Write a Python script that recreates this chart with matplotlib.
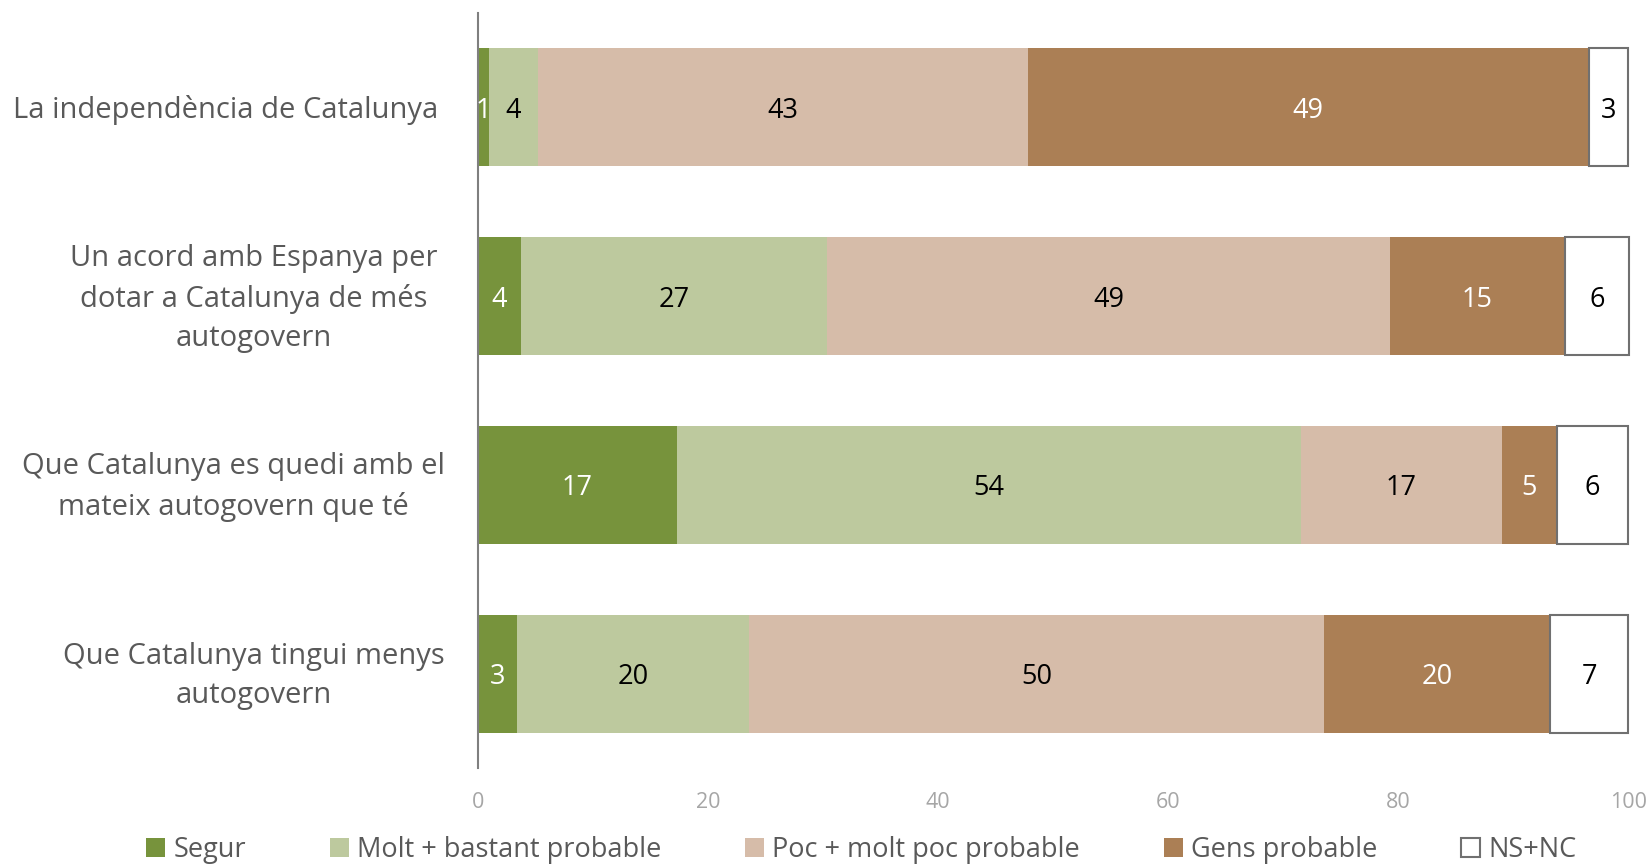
import numpy as np
import matplotlib.pyplot as plt
from matplotlib import transforms

plt.rcParams['font.family'] = ['Open Sans', 'DejaVu Sans']

questions = [
    "La independència de Catalunya",
    "Un acord amb Espanya per\ndotar a Catalunya de més\nautogovern",
    "Que Catalunya es quedi amb el\nmateix autogovern que té",
    "Que Catalunya tingui menys\nautogovern",
]
series = ["Segur", "Molt + bastant probable", "Poc + molt poc probable",
          "Gens probable", "NS+NC"]
segur = [1.0, 3.8, 17.3, 3.4]
molt_bastant = [4.2, 26.6, 54.3, 20.2]
poc_molt_poc = [42.6, 48.9, 17.4, 50.0]
gens = [48.8, 15.2, 4.8, 19.6]
ns_nc = [3.4, 5.6, 6.2, 6.8]

colors = ["#77933c", "#bdc99e", "#d6bca9", "#ab7f55", "#ffffff"]
label_colors = ["white", "black", "black", "white", "black"]

fig = plt.figure(figsize=(16.5, 8.65), dpi=100)
ax = fig.add_axes([0.2895, 0.112, 0.6973, 0.873])

y = np.arange(len(questions))
left = np.zeros(len(questions))
for vals, name, col, tcol in zip([segur, molt_bastant, poc_molt_poc, gens, ns_nc],
                                 series, colors, label_colors):
    vals = np.array(vals)
    is_ns = name == "NS+NC"
    ax.barh(y, vals, left=left, height=0.625, color=col, label=name,
            edgecolor="#707070" if is_ns else col,
            linewidth=1.5 if is_ns else 0, clip_on=False)
    for yi, l, v in zip(y, left, vals):
        ax.text(l + v / 2, yi, f"{int(round(v))}", ha="center",
                va="center_baseline", fontsize=19.5, color=tcol)
    left += vals

ax.set_xlim(0, 100)
ax.set_ylim(3.5, -0.5)
ax.set_yticks([])

# question labels, centred text blocks left of the axis
trans = transforms.blended_transform_factory(fig.transFigure, ax.transData)
label_x = [0.1365, 0.1537, 0.1416, 0.1537]
for yi, q, lx in zip(y, questions, label_x):
    ax.text(lx, yi + 0.012, q, transform=trans, ha="center", va="center",
            fontsize=21, color="#595959", linespacing=1.48)

ax.set_xticks([0, 20, 40, 60, 80, 100])
ax.tick_params(axis="x", length=0, labelsize=15.5, labelcolor="#a6a6a6", pad=17)
for s in ["top", "right", "bottom"]:
    ax.spines[s].set_visible(False)
ax.spines["left"].set_color("#7f7f7f")
ax.spines["left"].set_linewidth(1.5)

handles, labels = ax.get_legend_handles_labels()
leg = fig.legend(handles, labels, loc="center", bbox_to_anchor=(0.522, 0.017),
                 ncol=5, frameon=False, fontsize=19.5, handlelength=0.7,
                 handleheight=0.7, handletextpad=0.3, columnspacing=3.1)
for t in leg.get_texts():
    t.set_color("#595959")

fig.savefig("out.png", dpi=100)
